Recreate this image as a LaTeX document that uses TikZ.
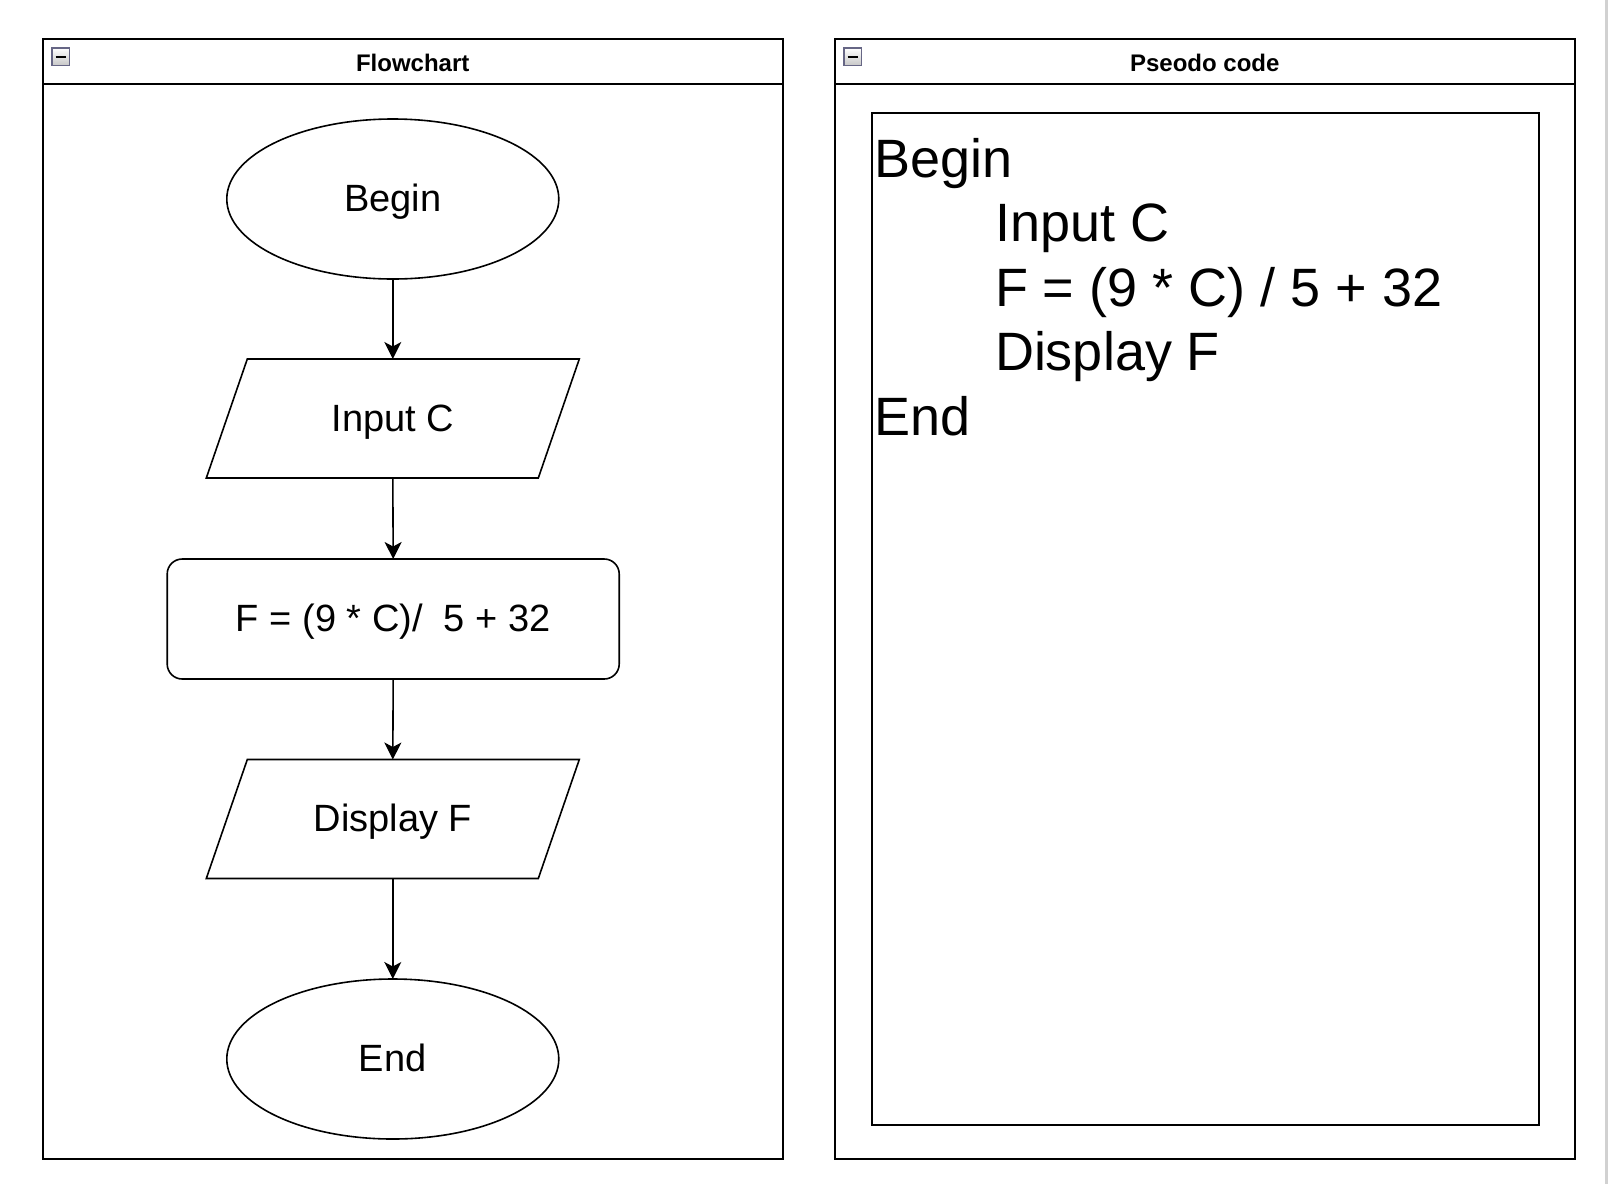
\documentclass[tikz,border=0pt]{standalone}
\usepackage{fontspec}
\setmainfont{Liberation Sans}
\usetikzlibrary{arrows.meta,shapes.geometric}
\tikzset{
  lane/.style={draw=black, line width=2pt},
  lanetitle/.style={font=\bfseries\fontsize{24}{29}\selectfont, inner sep=0pt},
  shapeline/.style={draw=black, line width=1.6pt},
  fctext/.style={font=\fontsize{38}{45}\selectfont, inner sep=0pt, outer sep=0pt, text height=30pt, text depth=5pt},
  term/.style={fctext, shapeline, ellipse, minimum width=332pt, minimum height=160pt},
  iobox/.style={fctext, rectangle, minimum width=373pt, minimum height=119pt},
  procbox/.style={fctext, shapeline, rectangle, rounded corners=15pt, minimum width=452pt, minimum height=120pt},
  flow/.style={draw=black, line width=1.6pt, -{Stealth[length=17pt,width=17pt,inset=4.5pt]}},
  codeline/.style={font=\fontsize{54}{64}\selectfont, inner sep=0pt, outer sep=0pt, anchor=base west},
  collapseicon/.style={draw=black!40!blue!20!gray, line width=1.4pt, top color=white, bottom color=black!22},
}
\begin{document}
\begin{tikzpicture}[x=1pt, y=-1pt]
  \useasboundingbox[fill=white] (0,0) rectangle (1608,1184);
  % right edge gray line
  \draw[black!18, line width=2.5pt] (1606.5,0) -- (1606.5,1184);

  % ---- Flowchart lane ----
  \draw[lane] (43,39) rectangle (782.5,1159);
  \draw[lane] (43,84) -- (782.5,84);
  \node[lanetitle] (fctitle) at (412.7,62.5) {Flowchart};
  \draw[collapseicon] (52,48) rectangle (69.5,65.5);
  \draw[black, line width=2.2pt] (55.5,56.8) -- (66,56.8);

  % ---- Pseudo code lane ----
  \draw[lane] (834.7,39) rectangle (1575,1159);
  \draw[lane] (834.7,84) -- (1575,84);
  \node[lanetitle] (pctitle) at (1204.8,62.5) {Pseodo code};
  \draw[collapseicon] (844,48) rectangle (861.5,65.5);
  \draw[black, line width=2.2pt] (847.5,56.8) -- (858,56.8);
  \draw[shapeline] (872,113) rectangle (1539,1125);

  % ---- Flowchart nodes ----
  \node[term] (begin) at (392.8,199) {Begin};
  \node[iobox] (input) at (392.8,418.5) {Input C};
  \draw[shapeline] ([xshift=41pt]input.north west) -- (input.north east)
        -- ([xshift=-41pt]input.south east) -- (input.south west) -- cycle;
  \node[procbox] (calc) at (393.2,619) {F = (9 * C)/\ \ 5 + 32};
  \node[iobox] (display) at (392.8,819) {Display F};
  \draw[shapeline] ([xshift=41pt]display.north west) -- (display.north east)
        -- ([xshift=-41pt]display.south east) -- (display.south west) -- cycle;
  \node[term] (end) at (392.8,1059) {End};

  \draw[flow] (begin.south) -- (input.north);
  \draw[flow] (input.south) -- (calc.north);
  \draw[flow] (calc.south) -- (display.north);
  \draw[flow] (display.south) -- (end.north);

  % ---- Pseudo code text ----
  \node[codeline] (c1) at (874,177.5) {Begin};
  \node[codeline] (c2) at (995,241.9) {Input C};
  \node[codeline] (c3) at (995,306.3) {F = (9 * C) / 5 + 32};
  \node[codeline] (c4) at (995,370.7) {Display F};
  \node[codeline] (c5) at (874,435.1) {End};
\end{tikzpicture}
\end{document}
